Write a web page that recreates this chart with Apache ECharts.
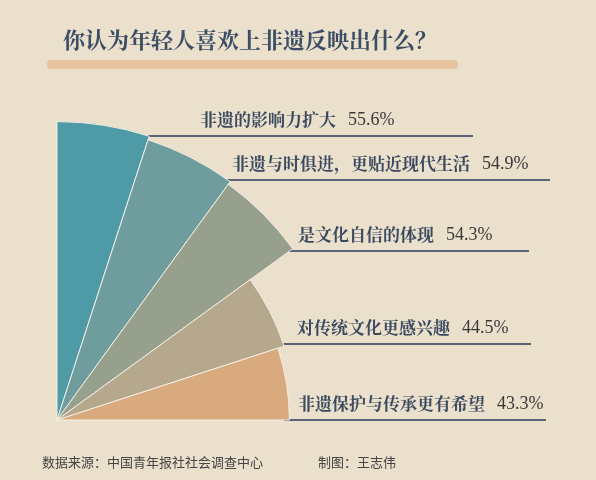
<!DOCTYPE html>
<html><head><meta charset="utf-8">
<script src="https://cdn.jsdelivr.net/npm/echarts@6/dist/echarts.min.js"></script>
<style>html,body{margin:0;padding:0;background:#ebe0cc}#c{width:596px;height:480px}</style>
</head><body><div id="c"></div>
<script>
const categories = ['非遗的影响力扩大','非遗与时俱进，更贴近现代生活','是文化自信的体现','对传统文化更感兴趣','非遗保护与传承更有希望'];
const values = [55.6, 54.9, 54.3, 44.5, 43.3];
const colors = ['#4e9ba7','#6f9d9d','#96a08d','#b6a88c','#d8aa7e'];
const title = '你认为年轻人喜欢上非遗反映出什么？';
const source = '数据来源：中国青年报社社会调查中心';
const author = '制图：王志伟';

// layout of annotation rows (positions only)
const rows = [
  {x: 200, y: 136, x0: 147, x1: 473},
  {x: 232, y: 180, x0: 226, x1: 550},
  {x: 298, y: 251, x0: 288, x1: 529},
  {x: 297, y: 344, x0: 280, x1: 531},
  {x: 298, y: 420, x0: 284, x1: 546}
];
const pad = new Array(15).fill('');
const angleCats = categories.concat(pad.map((_, i) => 'pad' + i));
const serif = '"Noto Serif CJK SC","Noto Sans CJK SC",serif';

const graphic = [
  {type:'rect', shape:{x:47,y:60,width:411,height:9,r:4}, style:{fill:'#e6c49f'}},
  {type:'text', x:250, y:40, style:{text:title, fill:'#3c4e66', font:'bold 22px ' + serif, textAlign:'center', textVerticalAlign:'middle'}},
  {type:'text', x:42, y:462, style:{text:source, fill:'#444', font:'13px "Noto Sans CJK SC"', textVerticalAlign:'middle'}},
  {type:'text', x:318, y:462, style:{text:author, fill:'#444', font:'13px "Noto Sans CJK SC"', textVerticalAlign:'middle'}}
];
rows.forEach((r, i) => {
  graphic.push({type:'line', shape:{x1:r.x0,y1:r.y,x2:r.x1,y2:r.y}, style:{stroke:'#5b6479', lineWidth:2}, z:1});
  graphic.push({type:'text', x:r.x, y:r.y-16, style:{
    rich:{a:{font:'bold 17px ' + serif, fill:'#3a4a60'}, b:{font:'18px "Liberation Serif",serif', fill:'#3a3a3a', padding:[0,0,0,12]}},
    text:'{a|' + categories[i] + '}{b|' + values[i].toFixed(1) + '%}', textVerticalAlign:'middle'}});
});

const chart = echarts.init(document.getElementById('c'));
chart.setOption({
  backgroundColor:'#ebe0cc',
  animation:false,
  polar:{center:[57,420], radius:322},
  angleAxis:{type:'category', data:angleCats, startAngle:90, clockwise:true, show:false},
  radiusAxis:{type:'value', min:0, max:60, show:false},
  series:[{
    type:'bar', coordinateSystem:'polar', barCategoryGap:'0%',
    data: values.map((v, i) => ({value:v, itemStyle:{color:colors[i]}})),
    itemStyle:{borderColor:'#f3eee4', borderWidth:1}, z:2
  }],
  graphic: graphic
});
</script></body></html>
